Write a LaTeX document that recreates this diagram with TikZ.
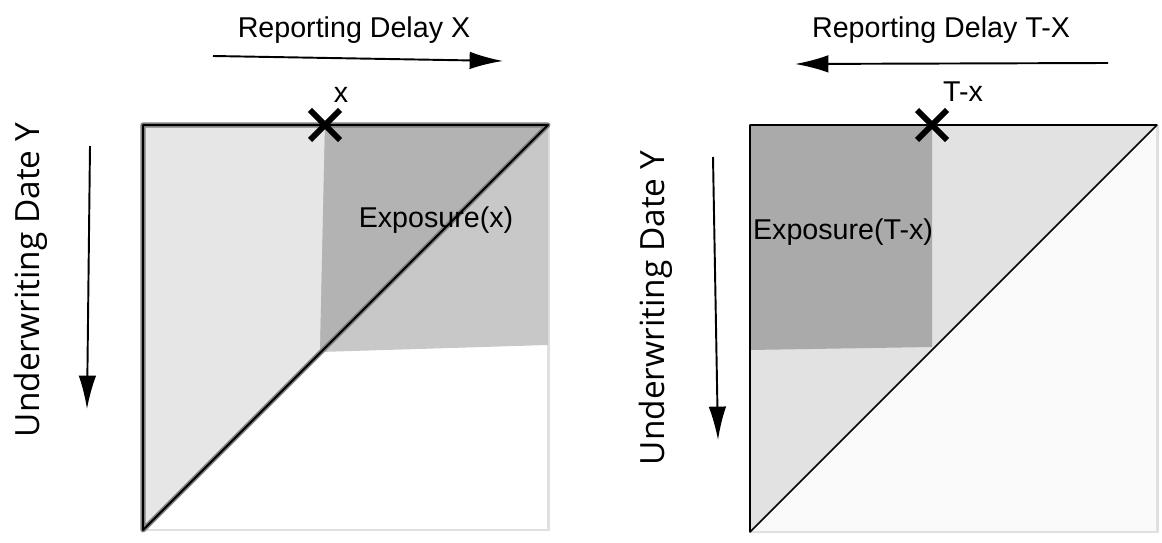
\documentclass[tikz,border=0pt]{standalone}
\usepackage{fontspec}
\setmainfont{Liberation Sans}
\newfontfamily\axisfont{Open Sans}
\usetikzlibrary{arrows.meta}
\usetikzlibrary{positioning}

\definecolor{paleL}{HTML}{E6E6E6}
\definecolor{darkUpL}{HTML}{B3B3B3}
\definecolor{darkLowL}{HTML}{C8C8C8}
\definecolor{paleR}{HTML}{E2E2E2}
\definecolor{whiteR}{HTML}{FAFAFA}
\definecolor{darkR}{HTML}{AAAAAA}
\definecolor{frameGray}{HTML}{E0E0E0}
\definecolor{rimGray}{HTML}{808080}

\tikzset{
  txt/.style={font=\fontsize{16.3}{19}\selectfont, inner sep=0pt},
  axistxt/.style={font=\axisfont\fontsize{19}{22}\selectfont, inner sep=0pt, rotate=90},
  axisarrow/.style={-{Latex[length=19pt,width=10pt]}, line width=1.1pt},
  xmark/.style={line width=3.3pt, line cap=butt},
  frame/.style={draw=frameGray, line width=1.7pt},
}

\begin{document}
\begin{tikzpicture}[x=0.02cm, y=-0.02cm]
  \useasboundingbox (0,0) rectangle (1162,543);

  % left square
  \coordinate (tlL) at (143,125);
  \coordinate (trL) at (548,125);
  \coordinate (blL) at (143,530);
  \coordinate (brL) at (548,530);
  \coordinate (cutL) at (325,125);
  \draw[frame] (trL) -- (brL) -- (blL);
  \fill[paleL] (tlL) -- (trL) -- (blL) -- cycle;
  \fill[darkLowL] (cutL) -- (trL) -- (548,345) -- (320,352) -- cycle;
  \begin{scope}
    \clip (tlL) -- (trL) -- (blL) -- cycle;
    \fill[darkUpL] (cutL) -- (trL) -- (548,345) -- (320,352) -- cycle;
  \end{scope}
  \draw[rimGray, line width=3pt, line join=round] (trL) -- (tlL) -- (blL) -- cycle;
  \draw[black, line width=1.1pt, line join=round] (trL) -- (tlL) -- (blL) -- cycle;
  \draw[xmark] ([shift={(-15,-15)}]cutL) -- ([shift={(15,15)}]cutL);
  \draw[xmark] ([shift={(-15,15)}]cutL) -- ([shift={(15,-15)}]cutL);
  \node[txt] (xL) at (341,95) {x};
  \node[txt] (expoL) at (436,220) {Exposure(x)};

  % left axes
  \node[txt] (delayL) at (354,30) {Reporting Delay X};
  \coordinate (dxFrom) at (213,56);
  \coordinate (dxTo) at (503,61);
  \draw[axisarrow] (dxFrom) -- (dxTo);
  \node[axistxt] (uwL) at (31,280) {Underwriting Date Y};
  \coordinate (dyFrom) at (90,146);
  \coordinate (dyTo) at (87,409);
  \draw[axisarrow] (dyFrom) -- (dyTo);

  % right square
  \coordinate (tlR) at (750,125);
  \coordinate (trR) at (1157,125);
  \coordinate (blR) at (750,532);
  \coordinate (brR) at (1157,532);
  \coordinate (cutR) at (932,125);
  \fill[whiteR] (trR) -- (brR) -- (blR) -- cycle;
  \draw[frame] (trR) -- (brR) -- (blR);
  \fill[paleR] (tlR) -- (trR) -- (blR) -- cycle;
  \fill[darkR] (tlR) -- (cutR) -- (932,347) -- (750,350) -- cycle;
  \draw[black, line width=0.9pt, line join=round] (trR) -- (tlR) -- (blR) -- cycle;
  \draw[xmark] ([shift={(-15,-15)}]cutR) -- ([shift={(15,15)}]cutR);
  \draw[xmark] ([shift={(-15,15)}]cutR) -- ([shift={(15,-15)}]cutR);
  \node[txt] (xR) at (963,92) {T-x};
  \node[txt] (expoR) at (843,232) {Exposure(T-x)};

  % right axes
  \node[txt] (delayR) at (941,30) {Reporting Delay T-X};
  \coordinate (txFrom) at (1108,63);
  \coordinate (txTo) at (795,64);
  \draw[axisarrow] (txFrom) -- (txTo);
  \node[axistxt] (uwR) at (656,308) {Underwriting Date Y};
  \coordinate (tyFrom) at (713,157);
  \coordinate (tyTo) at (718,440);
  \draw[axisarrow] (tyFrom) -- (tyTo);
\end{tikzpicture}
\end{document}
